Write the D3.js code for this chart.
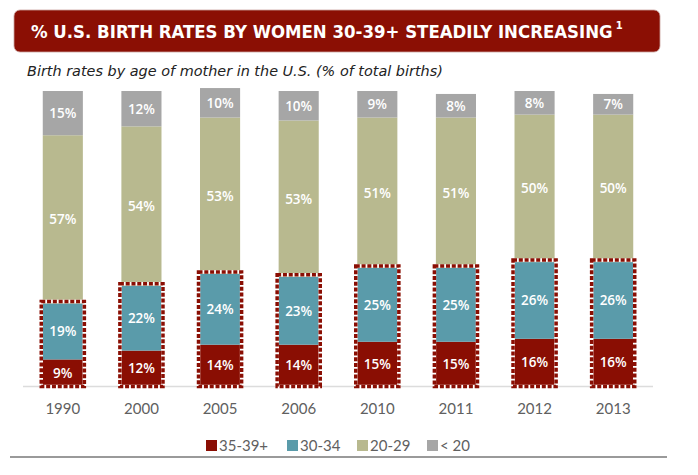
<!DOCTYPE html>
<html>
<head>
<meta charset="utf-8">
<script src="https://cdn.jsdelivr.net/npm/d3@7"></script>
<style>
  body { margin: 0; background: #fff; }
  svg { display: block; }
</style>
</head>
<body>
<div id="chart"></div>
<script>
// data
var years = ["1990", "2000", "2005", "2006", "2010", "2011", "2012", "2013"];
var age35 = [9, 12, 14, 14, 15, 15, 16, 16];
var age30 = [19, 22, 24, 23, 25, 25, 26, 26];
var age20 = [57, 54, 53, 53, 51, 51, 50, 50];
var ageUnder20 = [15, 12, 10, 10, 9, 8, 8, 7];
var seriesNames = ["35-39+", "30-34", "20-29", "< 20"];
var seriesColors = ["#8a0e03", "#5a9baa", "#b8b98f", "#a6a6a6"];

var W = 698, H = 475;
var svg = d3.select("#chart").append("svg")
    .attr("width", W)
    .attr("height", H);

// title banner
svg.append("rect")
    .attr("x", 14).attr("y", 10)
    .attr("width", 646).attr("height", 42)
    .attr("rx", 6)
    .attr("fill", "#8b0f04")
    .attr("stroke", "#c9a29e")
    .attr("stroke-width", 0.8);

var title = svg.append("text")
    .attr("x", 31).attr("y", 38)
    .attr("fill", "#fff")
    .style("font-family", "'DejaVu Sans Condensed', 'DejaVu Sans', sans-serif")
    .style("font-weight", "bold")
    .style("font-size", "20px")
    .text("% U.S. BIRTH RATES BY WOMEN 30-39+ STEADILY INCREASING");
// fit the title to the banner without stretching glyphs
var tw = title.node().getComputedTextLength();
var fs = Math.min(20, 20 * 582 / tw);
title.style("font-size", fs + "px");
tw = title.node().getComputedTextLength();

svg.append("text")
    .attr("x", 31 + tw + 3).attr("y", 29)
    .attr("fill", "#fff")
    .style("font-family", "'DejaVu Sans', sans-serif")
    .style("font-weight", "bold")
    .style("font-size", "10px")
    .text("1");

var sub = svg.append("text")
    .attr("x", 27).attr("y", 76)
    .attr("fill", "#222")
    .style("font-family", "'DejaVu Sans', sans-serif")
    .style("font-style", "italic")
    .style("font-size", "13px")
    .text("Birth rates by age of mother in the U.S. (% of total births)");
var sw = sub.node().getComputedTextLength();
sub.style("font-size", (13 * 416 / sw) + "px");

// scales
var x = d3.scaleBand()
    .domain(years)
    .range([23.5, 652.5])
    .paddingInner(0.49)
    .paddingOuter(0.245);

var y = d3.scaleLinear()
    .domain([0, 100])
    .range([386, 91]);

var rows = years.map(function (yr, i) {
    return { year: yr, a35: age35[i], a30: age30[i], a20: age20[i], u20: ageUnder20[i] };
});
var keys = ["a35", "a30", "a20", "u20"];
var stacked = d3.stack().keys(keys)(rows);

// baseline
svg.append("line")
    .attr("x1", 23).attr("x2", 653)
    .attr("y1", y(0) + 0.5).attr("y2", y(0) + 0.5)
    .attr("stroke", "#dcdcdc")
    .attr("stroke-width", 1.5);

var layers = svg.selectAll(".layer")
    .data(stacked)
    .enter()
    .append("g")
    .attr("class", "layer")
    .attr("fill", function (d, i) { return seriesColors[i]; });

layers.selectAll("rect")
    .data(function (d) { return d; })
    .enter()
    .append("rect")
    .attr("x", function (d) { return x(d.data.year); })
    .attr("width", x.bandwidth())
    .attr("y", function (d) { return y(d[1]); })
    .attr("height", function (d) { return y(d[0]) - y(d[1]); });

// dashed highlight round 30-39+
var top30 = stacked[1];
var hl = svg.append("g");
hl.selectAll(".hl-under")
    .data(top30)
    .enter()
    .append("rect")
    .attr("x", function (d) { return x(d.data.year) - 1.5; })
    .attr("width", x.bandwidth() + 3)
    .attr("y", function (d) { return y(d[1]) - 2; })
    .attr("height", function (d) { return y(0) - y(d[1]) + 2.5; })
    .attr("fill", "none")
    .attr("stroke", "#fff")
    .attr("stroke-width", 3.5);
hl.selectAll(".hl")
    .data(top30)
    .enter()
    .append("rect")
    .attr("x", function (d) { return x(d.data.year) - 1.5; })
    .attr("width", x.bandwidth() + 3)
    .attr("y", function (d) { return y(d[1]) - 2; })
    .attr("height", function (d) { return y(0) - y(d[1]) + 2.5; })
    .attr("fill", "none")
    .attr("stroke", "#8a0e03")
    .attr("stroke-width", 3.5)
    .attr("stroke-dasharray", "4,1.8");

// segment labels
layers.selectAll("text")
    .data(function (d) {
        return d.map(function (p) { return { p: p, key: d.key }; });
    })
    .enter()
    .append("text")
    .attr("x", function (d) { return x(d.p.data.year) + x.bandwidth() / 2; })
    .attr("y", function (d) { return (y(d.p[0]) + y(d.p[1])) / 2; })
    .attr("dy", "0.36em")
    .attr("text-anchor", "middle")
    .attr("fill", "#fff")
    .style("font-family", "'Open Sans', sans-serif")
    .style("font-weight", "600")
    .style("font-size", "13.5px")
    .text(function (d) { return d.p.data[d.key] + "%"; });

// x axis labels
var xAxis = d3.axisBottom(x).tickSize(0).tickPadding(0);
var gx = svg.append("g")
    .attr("transform", "translate(0,400)")
    .call(xAxis);
gx.select(".domain").remove();
gx.selectAll("text")
    .attr("dy", "0.9em")
    .attr("fill", "#606060")
    .style("font-family", "Lato, sans-serif")
    .style("font-size", "15px");

// legend
var legendX = [206, 287, 357, 427];
var legend = svg.selectAll(".legend")
    .data(seriesNames)
    .enter()
    .append("g")
    .attr("class", "legend")
    .attr("transform", function (d, i) { return "translate(" + legendX[i] + ",439)"; });
legend.append("rect")
    .attr("width", 11).attr("height", 11)
    .attr("y", 1)
    .attr("fill", function (d, i) { return seriesColors[i]; });
legend.append("text")
    .attr("x", 13).attr("y", 11.5)
    .attr("fill", "#606060")
    .style("font-family", "Lato, sans-serif")
    .style("font-size", "15px")
    .text(function (d) { return d; });

// bottom rule
svg.append("line")
    .attr("x1", 10).attr("x2", 667)
    .attr("y1", 457).attr("y2", 457)
    .attr("stroke", "#9a9a9a")
    .attr("stroke-width", 2);
</script>
</body>
</html>
